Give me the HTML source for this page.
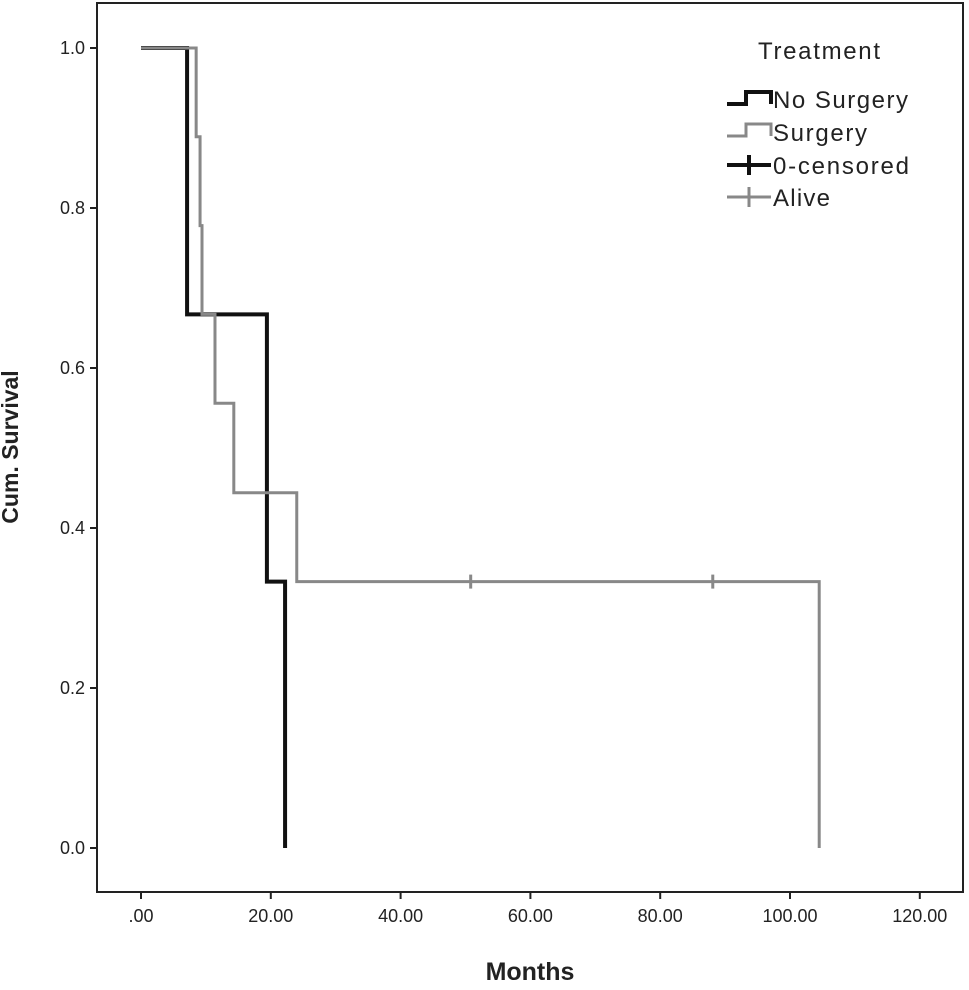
<!DOCTYPE html>
<html><head><meta charset="utf-8"><style>
body{margin:0;background:#fff;}
svg text{font-family:"Liberation Sans",Arial,sans-serif;}
</style></head><body>
<svg id="chart" width="969" height="985" viewBox="0 0 969 985">
<rect x="97" y="3" width="866" height="889" fill="none" stroke="#222" stroke-width="2"/>
<g id="axes"></g>
<g id="series"></g>
<text x="18" y="447" transform="rotate(-90 18 447)" text-anchor="middle" font-size="23" font-weight="bold" fill="#222">Cum. Survival</text>
<text x="530" y="980" text-anchor="middle" font-size="25" font-weight="bold" fill="#222">Months</text>
<g font-size="24" fill="#222">
<text x="758" y="59" textLength="122">Treatment</text>
<g><path d="M727 104 H746 V92 H771 V104" fill="none" stroke="#111" stroke-width="4"/><text x="773" y="108" textLength="135">No Surgery</text></g>
<g><path d="M727 136 H746 V124 H771 V136" fill="none" stroke="#888" stroke-width="3"/><text x="773" y="141" textLength="94">Surgery</text></g>
<g><path d="M727 165 H771 M749 155 V175" fill="none" stroke="#111" stroke-width="4"/><text x="773" y="174" textLength="136">0-censored</text></g>
<g><path d="M727 197 H771 M749 187 V207" fill="none" stroke="#888" stroke-width="3"/><text x="773" y="206" textLength="57">Alive</text></g>
</g>
</svg>
<script>
const xTicks=[0,20,40,60,80,100,120];
const xTickLabels=[".00","20.00","40.00","60.00","80.00","100.00","120.00"];
const yTicks=[0,0.2,0.4,0.6,0.8,1.0];
const yTickLabels=["0.0","0.2","0.4","0.6","0.8","1.0"];
const noSurgeryTimes=[0,7.1,19.4,22.2];
const noSurgerySurv=[1,0.667,0.333,0];
const surgeryTimes=[0,8.5,9.1,9.4,11.4,14.3,24.0,104.5];
const surgerySurv=[1,0.889,0.778,0.667,0.556,0.444,0.333,0];
const surgeryCensorTimes=[50.8,88.1];
const surgeryCensorSurv=[0.333,0.333];
const X=v=>141+v*6.49, Y=v=>848-v*800;
const NS="http://www.w3.org/2000/svg";
const axes=document.getElementById('axes'), series=document.getElementById('series');
function mk(t,a,p){const e=document.createElementNS(NS,t);for(const k in a)e.setAttribute(k,a[k]);p.appendChild(e);return e;}
xTicks.forEach((v,i)=>{
 const l=mk('line',{x1:X(v),x2:X(v),y1:892,y2:899,stroke:'#222','stroke-width':2},axes);
 
 
 const t=mk('text',{x:X(v),y:922,'text-anchor':'middle','font-size':18,fill:'#222'},axes);
 t.textContent=xTickLabels[i];
 
 
});
yTicks.forEach((v,i)=>{
 const l=mk('line',{x1:90,x2:97,y1:Y(v),y2:Y(v),stroke:'#222','stroke-width':2},axes);
 
 
 const t=mk('text',{x:85,y:Y(v)+6,'text-anchor':'end','font-size':18,fill:'#222'},axes);
 t.textContent=yTickLabels[i];
 
 
});
function stepPath(ts,ss){let d='M'+X(ts[0])+' '+Y(ss[0]);for(let i=1;i<ts.length;i++){d+=' H'+X(ts[i])+' V'+Y(ss[i]);}return d;}
const p1=mk('path',{d:stepPath(noSurgeryTimes,noSurgerySurv),fill:'none',stroke:'#111','stroke-width':4},series);


const p2=mk('path',{d:stepPath(surgeryTimes,surgerySurv),fill:'none',stroke:'#888','stroke-width':3},series);


surgeryCensorTimes.forEach((t,i)=>{
 const c=mk('line',{x1:X(t),x2:X(t),y1:Y(surgeryCensorSurv[i])-7,y2:Y(surgeryCensorSurv[i])+7,stroke:'#888','stroke-width':3},series);
 
 
});
</script>
</body></html>
